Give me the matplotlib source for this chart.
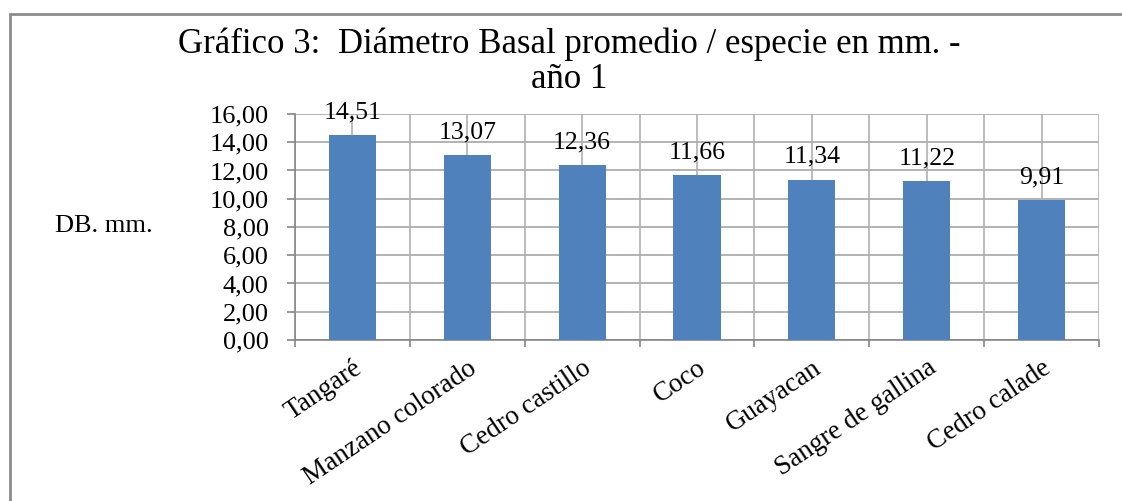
import matplotlib.pyplot as plt
from matplotlib.patches import Rectangle

# data
especies = ["Tangaré", "Manzano colorado", "Cedro castillo", "Coco",
            "Guayacan", "Sangre de gallina", "Cedro calade"]
diametro = [14.51, 13.07, 12.36, 11.66, 11.34, 11.22, 9.91]
yticks = [0, 2, 4, 6, 8, 10, 12, 14, 16]

plt.rcParams['font.family'] = ['Liberation Serif', 'DejaVu Serif']

fig = plt.figure(figsize=(11.22, 5.01), dpi=100)
ax = fig.add_axes([0.2629, 0.3214, 0.7166, 0.4511])

# outer chart border (only top/left inside the picture)
fig.patches.append(Rectangle((10 / 1122, -0.1), 1.2, 1 - 14 / 501 + 0.1,
                             transform=fig.transFigure, fill=False,
                             edgecolor='#8c8c8c', linewidth=2))

x = list(range(len(especies)))
bars = ax.bar(x, diametro, width=0.41, color='#4f81bd', zorder=3)

ax.set_xlim(-0.5, len(especies) - 0.5)
ax.set_ylim(0, 16)
ax.set_yticks(yticks)
ax.set_yticklabels([f"{v:.2f}".replace('.', ',') for v in yticks], fontsize=19)

# gridlines: horizontal + vertical at category edges and centres
for v in yticks:
    ax.axhline(v, color='#a6a6a6', linewidth=1.2, zorder=1)
for i in range(len(especies) + 1):
    ax.axvline(i - 0.5, color='#b0b0b0', linewidth=1.2, zorder=1)
for i in x:
    ax.axvline(i, color='#b0b0b0', linewidth=1.2, zorder=1)

ax.set_xticks([i - 0.5 for i in range(len(especies) + 1)])
ax.set_xticklabels([])
ax.tick_params(axis='x', length=5, color='#868686', width=1.2)
ax.tick_params(axis='y', length=6, color='#868686', width=1.2, pad=13)

for i, name in enumerate(especies):
    ax.text(i + 0.0, -1.1, name, rotation=34, ha='right', va='top',
            rotation_mode='anchor', fontsize=19.5)

for spine in ['top', 'right']:
    ax.spines[spine].set_visible(False)
for spine in ['left', 'bottom']:
    ax.spines[spine].set_color('#868686')
    ax.spines[spine].set_linewidth(1.2)

for i, v in enumerate(diametro):
    ax.text(i, v + 0.85, f"{v:.2f}".replace('.', ','), ha='center', va='bottom',
            fontsize=18.5, zorder=4)

fig.text(0.507, 1 - 44 / 501, "Gráfico 3:  Diámetro Basal promedio / especie en mm. -",
         ha='center', va='center', fontsize=25)
fig.text(0.507, 1 - 80 / 501, "año 1", ha='center', va='center', fontsize=25)
fig.text(55 / 1122, 1 - 226 / 501, "DB. mm.", ha='left', va='center', fontsize=19)

fig.savefig("out.png", dpi=100)
